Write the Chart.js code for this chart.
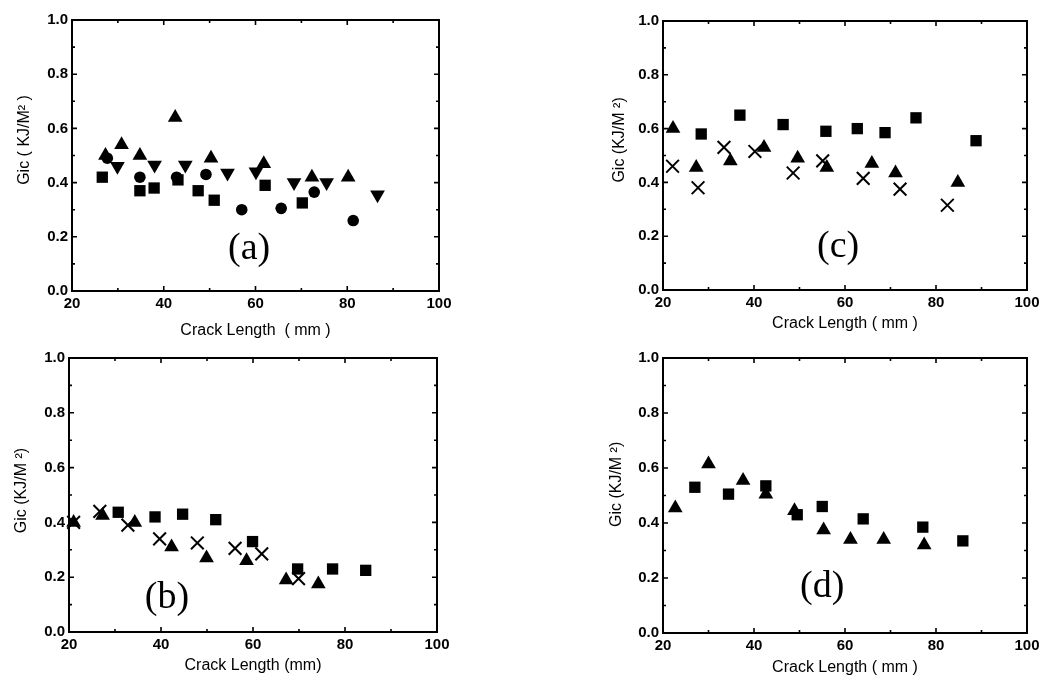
<!doctype html>
<html lang="en">
<head>
  <meta charset="utf-8">
  <title>Gic vs Crack Length</title>
  <script src="https://cdn.jsdelivr.net/npm/chart.js"></script>
  <style>
    body { margin: 0; background: #fff; width: 1048px; height: 677px; overflow: hidden; }
    canvas { position: absolute; }
  </style>
</head>
<body>

<canvas id="chartA"></canvas>
<canvas id="chartB"></canvas>
<canvas id="chartC"></canvas>
<canvas id="chartD"></canvas>

<script>
  // ---- data ----
  // panel (a)
  const aTriX  = [27.3, 30.8, 34.8, 42.5, 50.3, 61.8, 72.3, 80.2];
  const aTriY  = [0.50, 0.54, 0.50, 0.64, 0.49, 0.47, 0.42, 0.42];
  const aDownX = [29.9, 38.0, 44.7, 53.9, 60.1, 68.4, 75.5, 86.6];
  const aDownY = [0.46, 0.465, 0.465, 0.435, 0.44, 0.40, 0.40, 0.355];
  const aCircX = [27.7, 34.8, 42.8, 49.2, 57.0, 65.6, 72.8, 81.3];
  const aCircY = [0.49, 0.42, 0.42, 0.43, 0.30, 0.305, 0.365, 0.26];
  const aSqX   = [26.6, 34.8, 37.9, 43.1, 47.5, 51.0, 62.1, 70.2];
  const aSqY   = [0.42, 0.37, 0.38, 0.41, 0.37, 0.335, 0.39, 0.325];

  // panel (b)
  const bTriX   = [21.0, 27.3, 34.3, 42.3, 49.9, 58.6, 67.2, 74.2];
  const bTriY   = [0.40, 0.425, 0.40, 0.31, 0.27, 0.26, 0.19, 0.175];
  const bCrossX = [21.0, 26.7, 32.8, 39.7, 47.9, 56.1, 61.9, 69.9];
  const bCrossY = [0.40, 0.44, 0.39, 0.34, 0.325, 0.305, 0.285, 0.195];
  const bSqX    = [30.7, 38.7, 44.7, 51.9, 59.9, 69.7, 77.3, 84.5];
  const bSqY    = [0.437, 0.42, 0.43, 0.41, 0.33, 0.23, 0.23, 0.225];

  // panel (c)
  const cTriX   = [22.2, 27.3, 34.8, 42.2, 49.6, 56.0, 65.9, 71.1, 84.8];
  const cTriY   = [0.60, 0.455, 0.48, 0.53, 0.49, 0.455, 0.47, 0.435, 0.40];
  const cSqX    = [28.4, 36.9, 46.4, 55.8, 62.7, 68.8, 75.6, 88.8];
  const cSqY    = [0.58, 0.65, 0.615, 0.59, 0.60, 0.585, 0.64, 0.555];
  const cCrossX = [22.1, 27.7, 33.4, 40.2, 48.6, 55.1, 64.0, 72.1, 82.5];
  const cCrossY = [0.46, 0.38, 0.53, 0.515, 0.435, 0.48, 0.415, 0.375, 0.315];

  // panel (d)
  const dTriX = [22.7, 30.0, 37.6, 42.6, 48.9, 55.3, 61.2, 68.5, 77.4];
  const dTriY = [0.455, 0.615, 0.555, 0.505, 0.445, 0.375, 0.34, 0.34, 0.32];
  const dSqX  = [27.0, 34.4, 42.6, 49.5, 55.0, 64.0, 77.1, 85.9];
  const dSqY  = [0.53, 0.505, 0.535, 0.43, 0.46, 0.415, 0.385, 0.335];

  // axis ticks
  const xTicks = [20, 40, 60, 80, 100];
  const yTicks = [0.0, 0.2, 0.4, 0.6, 0.8, 1.0];

  function pts(xs, ys) {
    return xs.map(function (x, i) { return {x: x, y: ys[i]}; });
  }

  // marker styles
  const styles = {
    tri:   {pointStyle: 'triangle', pointRadius: 8.5, borderWidth: 0},
    down:  {pointStyle: 'triangle', pointRadius: 8.5, borderWidth: 0, rotation: 180},
    circ:  {pointStyle: 'circle',   pointRadius: 5.8, borderWidth: 0},
    sq:    {pointStyle: 'rect',     pointRadius: 8,   borderWidth: 0},
    cross: {pointStyle: 'crossRot', pointRadius: 9,   borderWidth: 2}
  };

  function ds(kind, xs, ys) {
    const s = styles[kind];
    return {
      data: pts(xs, ys),
      pointStyle: s.pointStyle,
      pointRadius: s.pointRadius,
      pointBorderWidth: s.borderWidth,
      rotation: s.rotation || 0,
      backgroundColor: '#000',
      borderColor: '#000',
      clip: false
    };
  }

  // inward ticks, frame box and the (a)/(b)... label
  const framePlugin = {
    id: 'frame',
    beforeDatasetsDraw: function (chart) {
      const ctx = chart.ctx;
      const a = chart.chartArea;
      const xs = chart.scales.x, ys = chart.scales.y;
      ctx.save();
      ctx.strokeStyle = '#000';
      ctx.lineWidth = 2;
      ctx.strokeRect(a.left, a.top, a.right - a.left, a.bottom - a.top);
      ctx.lineWidth = 1.6;
      ctx.beginPath();
      for (let v = 20; v <= 100; v += 10) {
        const len = v % 20 === 0 ? 5 : 3;
        const px = xs.getPixelForValue(v);
        ctx.moveTo(px, a.bottom); ctx.lineTo(px, a.bottom - len);
        ctx.moveTo(px, a.top); ctx.lineTo(px, a.top + len);
      }
      for (let i = 0; i <= 10; i++) {
        const len = i % 2 === 0 ? 5 : 3;
        const py = ys.getPixelForValue(i / 10);
        ctx.moveTo(a.left, py); ctx.lineTo(a.left + len, py);
        ctx.moveTo(a.right, py); ctx.lineTo(a.right - len, py);
      }
      ctx.stroke();
      ctx.restore();
    },
    afterDraw: function (chart) {
      const tag = chart.options.plugins.frame;
      const ctx = chart.ctx;
      ctx.save();
      ctx.fillStyle = '#000';
      ctx.font = '38px "Liberation Serif", "Times New Roman", serif';
      ctx.textAlign = 'center';
      ctx.textBaseline = 'middle';
      ctx.fillText(tag.text, chart.scales.x.getPixelForValue(tag.x), chart.scales.y.getPixelForValue(tag.y));
      ctx.restore();
    }
  };

  const tickFont = {family: '"Liberation Sans", Arial, sans-serif', size: 15, weight: 'bold'};
  const titleFont = {family: '"Liberation Sans", Arial, sans-serif', size: 16};

  function makeChart(id, box, datasets, xTitle, yTitle, tag) {
    const yAxisW = 60, padTop = 10, padRight = 20;
    const canvas = document.getElementById(id);
    const w = yAxisW + (box.right - box.left) + padRight;
    const h = padTop + (box.bottom - box.top) + box.xAxisH;
    canvas.width = w;
    canvas.height = h;
    canvas.style.left = (box.left - yAxisW) + 'px';
    canvas.style.top = (box.top - padTop) + 'px';

    return new Chart(canvas.getContext('2d'), {
      type: 'scatter',
      data: {datasets: datasets},
      plugins: [framePlugin],
      options: {
        responsive: false,
        animation: false,
        events: [],
        layout: {padding: {left: 0, top: padTop, right: padRight, bottom: 0}},
        scales: {
          x: {
            min: 20, max: 100,
            afterBuildTicks: function (s) { s.ticks = xTicks.map(function (v) { return {value: v}; }); },
            afterFit: function (s) { s.height = box.xAxisH; },
            grid: {display: false, drawTicks: false},
            border: {display: false},
            ticks: {color: '#000', font: tickFont, padding: 4, autoSkip: false, maxRotation: 0},
            title: {display: true, text: xTitle, color: '#000', font: titleFont, padding: {top: 0, bottom: 0}}
          },
          y: {
            min: 0, max: 1,
            afterBuildTicks: function (s) { s.ticks = yTicks.map(function (v) { return {value: v}; }); },
            afterFit: function (s) { s.width = yAxisW; },
            grid: {display: false, drawTicks: false},
            border: {display: false},
            ticks: {
              color: '#000', font: tickFont, padding: 4, autoSkip: false,
              callback: function (v) { return Number(v).toFixed(1); }
            },
            title: {display: true, text: ' '.repeat(box.yShift) + yTitle, color: '#000', font: titleFont,
                    padding: {top: yAxisW - 9.6 - box.yTitleGap, bottom: 0}}
          }
        },
        plugins: {
          legend: {display: false},
          tooltip: {enabled: false},
          frame: tag
        }
      }
    });
  }

  makeChart('chartA', {left: 72, right: 439, top: 17, bottom: 291, xAxisH: 49, yTitleGap: 47, yShift: 7},
    [ds('tri', aTriX, aTriY), ds('down', aDownX, aDownY), ds('circ', aCircX, aCircY), ds('sq', aSqX, aSqY)],
    'Crack Length  ( mm )', 'Gic ( KJ/M\u00B2 )', {text: '(a)', x: 58.6, y: 0.155});

  makeChart('chartB', {left: 69, right: 437, top: 355, bottom: 632, xAxisH: 43, yTitleGap: 47, yShift: 2},
    [ds('tri', bTriX, bTriY), ds('cross', bCrossX, bCrossY), ds('sq', bSqX, bSqY)],
    'Crack Length (mm)', 'Gic (KJ/M \u00B2)', {text: '(b)', x: 41.3, y: 0.125});

  makeChart('chartC', {left: 663, right: 1027, top: 18, bottom: 290, xAxisH: 43, yTitleGap: 43, yShift: 7},
    [ds('tri', cTriX, cTriY), ds('sq', cSqX, cSqY), ds('cross', cCrossX, cCrossY)],
    'Crack Length ( mm )', 'Gic (KJ/M \u00B2)', {text: '(c)', x: 58.5, y: 0.158});

  makeChart('chartD', {left: 663, right: 1027, top: 355, bottom: 633, xAxisH: 44, yTitleGap: 46, yShift: 5},
    [ds('tri', dTriX, dTriY), ds('sq', dSqX, dSqY)],
    'Crack Length ( mm )', 'Gic (KJ/M \u00B2)', {text: '(d)', x: 55.0, y: 0.166});
</script>
</body>
</html>
